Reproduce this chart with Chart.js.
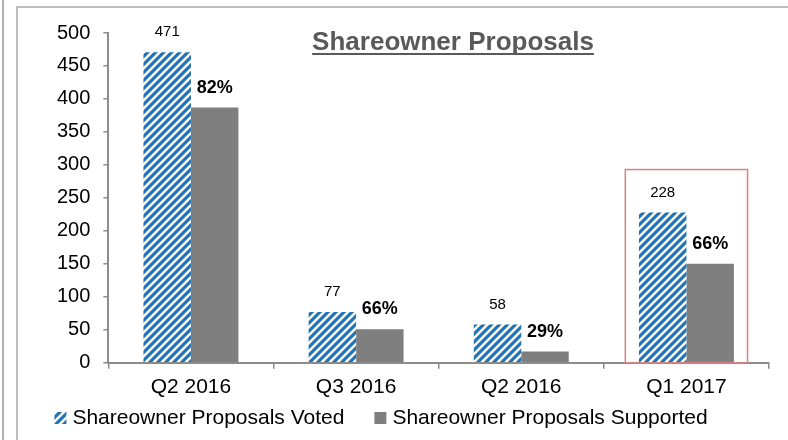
<!DOCTYPE html>
<html>
<head>
<meta charset="utf-8">
<script src="https://cdn.jsdelivr.net/npm/chart.js@4"></script>
<style>
  body { margin: 0; background: #fff; }
  #wrap { position: relative; width: 788px; height: 440px; overflow: hidden; }
  #outerLine { position: absolute; left: 2px; top: 0; width: 2px; height: 440px; background: #b0b0b0; }
  #frame { position: absolute; left: 16px; top: 6px; right: -10px; bottom: -10px;
           border-left: 2px solid #bdbdbd; border-top: 2px solid #bdbdbd; }
  #chart { position: absolute; left: 0; top: 0; }
</style>
</head>
<body>
<div id="wrap">
  <div id="outerLine"></div>
  <div id="frame"></div>
  <canvas id="chart" width="788" height="440"></canvas>
</div>
<script>
// Chart data
const categories = ['Q2 2016', 'Q3 2016', 'Q2 2016', 'Q1 2017'];
const votedValues = [471, 77, 58, 228];
const supportedValues = [387, 51, 17, 150];
const supportedPct = ['82%', '66%', '29%', '66%'];
const yTicks = { min: 0, max: 500, step: 50 };
const highlightIndex = 3;      // category boxed in red
const highlightTop = 293;      // y value of the top of the red box

const FONT = '"Liberation Sans", Arial, sans-serif';

// Blue/white diagonal hatch used for the "Voted" bars
function makeHatch(color) {
    const c = document.createElement('canvas');
    c.width = 8; c.height = 8;
    const g = c.getContext('2d');
    g.fillStyle = '#fff';
    g.fillRect(0, 0, 8, 8);
    g.strokeStyle = color;
    g.lineWidth = 3.2;
    g.beginPath();
    g.moveTo(0, 8); g.lineTo(8, 0);
    g.moveTo(-4, 4); g.lineTo(4, -4);
    g.moveTo(4, 12); g.lineTo(12, 4);
    g.stroke();
    return g.createPattern(c, 'repeat');
}

const ctx = document.getElementById('chart').getContext('2d');
const hatch = makeHatch('#1f74b5');

// Value labels above the bars
const barLabels = {
    id: 'barLabels',
    afterDatasetsDraw(chart) {
        const c = chart.ctx;
        c.save();
        c.textAlign = 'center';
        c.textBaseline = 'middle';
        c.fillStyle = '#000';
        chart.getDatasetMeta(0).data.forEach((bar, i) => {
            c.font = '15px ' + FONT;
            c.fillText(String(votedValues[i]), bar.x, bar.y - 20);
        });
        chart.getDatasetMeta(1).data.forEach((bar, i) => {
            c.font = 'bold 18px ' + FONT;
            c.fillText(supportedPct[i], bar.x, bar.y - 20);
        });
        c.restore();
    }
};

// Title, red highlight box and bottom legend
const extras = {
    id: 'extras',
    afterDraw(chart) {
        const c = chart.ctx;
        const x = chart.scales.x, y = chart.scales.y;
        c.save();

        // red box around the highlighted quarter
        const catW = (x.right - x.left) / categories.length;
        const cx = x.getPixelForValue(highlightIndex);
        c.strokeStyle = '#d98080';
        c.lineWidth = 1.5;
        c.strokeRect(cx - catW * 0.37, y.getPixelForValue(highlightTop),
                     catW * 0.74, y.getPixelForValue(0) - y.getPixelForValue(highlightTop));

        // underlined title
        c.font = 'bold 26px ' + FONT;
        c.fillStyle = '#595959';
        c.textAlign = 'center';
        c.textBaseline = 'alphabetic';
        const tx = 453, ty = 50;
        c.fillText('Shareowner Proposals', tx, ty);
        const tw = c.measureText('Shareowner Proposals').width;
        c.fillRect(tx - tw / 2, ty + 3, tw, 2);

        // legend
        c.font = '21px ' + FONT;
        c.textAlign = 'left';
        c.textBaseline = 'middle';
        const items = chart.data.datasets.map(ds => ({
            text: ds.label, fill: ds.backgroundColor, w: c.measureText(ds.label).width
        }));
        const box = 12, gapText = 6, gapItem = 30;
        const total = items.reduce((s, it) => s + box + gapText + it.w, 0) + gapItem * (items.length - 1);
        let lx = 381 - total / 2;
        const ly = 418;
        items.forEach(it => {
            c.fillStyle = it.fill;
            c.fillRect(lx, ly - box / 2, box, box);
            c.fillStyle = '#000';
            c.fillText(it.text, lx + box + gapText, ly);
            lx += box + gapText + it.w + gapItem;
        });
        c.restore();
    }
};

new Chart(ctx, {
    type: 'bar',
    data: {
        labels: categories,
        datasets: [
            { label: 'Shareowner Proposals Voted', data: votedValues, backgroundColor: hatch },
            { label: 'Shareowner Proposals Supported', data: supportedValues, backgroundColor: '#7f7f7f' }
        ]
    },
    options: {
        responsive: false,
        animation: false,
        layout: { padding: { left: 44, top: 33, right: 19, bottom: 34 } },
        plugins: {
            legend: { display: false },
            tooltip: { enabled: false }
        },
        datasets: {
            bar: { barPercentage: 1.0, categoryPercentage: 0.575 }
        },
        scales: {
            x: {
                grid: { drawOnChartArea: false, tickLength: 6, color: '#8c8c8c', lineWidth: 1.5 },
                border: { color: '#8c8c8c', width: 2 },
                ticks: { color: '#000', font: { family: FONT, size: 21 }, padding: 6 }
            },
            y: {
                min: yTicks.min, max: yTicks.max,
                grid: { drawOnChartArea: false, tickLength: 5, color: '#8c8c8c', lineWidth: 1.5 },
                border: { color: '#8c8c8c', width: 2 },
                ticks: { stepSize: yTicks.step, color: '#000', font: { family: FONT, size: 20 }, padding: 13 }
            }
        }
    },
    plugins: [barLabels, extras]
});
</script>
</body>
</html>
